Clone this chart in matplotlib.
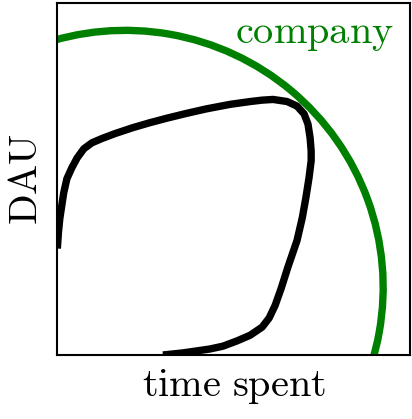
import matplotlib

matplotlib.use("Agg")
import matplotlib.pyplot as plt
from matplotlib.patches import Arc

plt.rcParams["mathtext.fontset"] = "cm"

# black curve: user path (axes run 0..1 on both sides)
USER_X = [0.001, 0.004, 0.008, 0.014, 0.019, 0.028, 0.042, 0.057, 0.076, 0.099,
          0.127, 0.164, 0.215, 0.263, 0.312, 0.365, 0.422, 0.490, 0.547, 0.581,
          0.612, 0.652, 0.680, 0.700, 0.711, 0.717, 0.720, 0.720, 0.714, 0.705,
          0.695, 0.680, 0.654, 0.635, 0.618, 0.601, 0.581, 0.547, 0.510, 0.470,
          0.433, 0.357, 0.300]
USER_Y = [0.302, 0.347, 0.387, 0.427, 0.460, 0.500, 0.531, 0.559, 0.585, 0.602,
          0.614, 0.628, 0.645, 0.659, 0.672, 0.685, 0.698, 0.711, 0.719, 0.723,
          0.725, 0.719, 0.706, 0.684, 0.655, 0.616, 0.579, 0.551, 0.503, 0.446,
          0.390, 0.325, 0.249, 0.189, 0.141, 0.105, 0.079, 0.056, 0.040, 0.025,
          0.017, 0.006, 0.000]

# green arc: company frontier
ARC_CENTER = (0.193, 0.192)
ARC_RADIUS_X = 0.731
ARC_RADIUS_Y = 0.729

COMPANY_LABEL = "company"
X_LABEL = "time spent"
Y_LABEL = "DAU"

GREEN = "#008000"


def mt(text):
    return r"$\mathrm{" + text.replace(" ", r"\ ") + "}$"


fig = plt.figure(figsize=(4.12, 4.19), dpi=100)
ax = fig.add_axes([57 / 412, 64 / 419, 353 / 412, 352.5 / 419])

ax.add_patch(Arc(ARC_CENTER, 2 * ARC_RADIUS_X, 2 * ARC_RADIUS_Y, theta1=-40, theta2=200,
                 color=GREEN, linewidth=5.3))
ax.plot(USER_X, USER_Y, color="black", linewidth=5.3, solid_capstyle="butt",
        solid_joinstyle="round")

ax.text(0.955, 0.884, mt(COMPANY_LABEL), color=GREEN, fontsize=29, ha="right", va="baseline")

ax.set_xlim(0, 1)
ax.set_ylim(0, 1)
ax.set_xticks([])
ax.set_yticks([])
for spine in ax.spines.values():
    spine.set_linewidth(1.5)

ax.set_xlabel(mt(X_LABEL), fontsize=29, labelpad=8)
ax.set_ylabel(mt(Y_LABEL), fontsize=29, labelpad=8)

fig.savefig("out.png", dpi=100)
